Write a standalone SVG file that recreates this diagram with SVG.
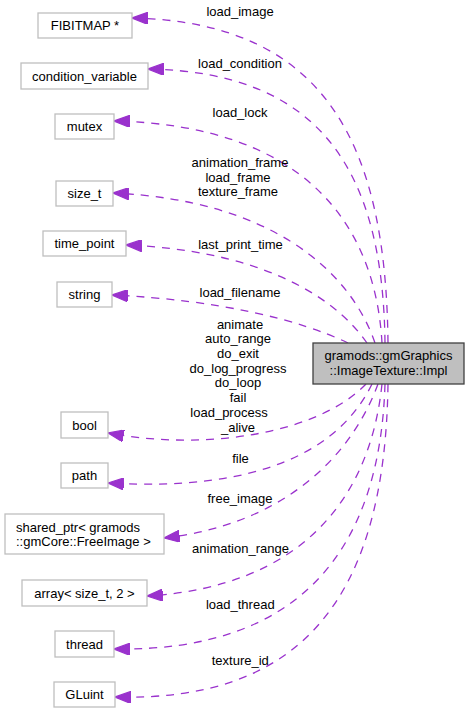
<svg xmlns="http://www.w3.org/2000/svg" width="469" height="713" viewBox="0 0 469 713">
<style>
text{font-family:"Liberation Sans",Arial,sans-serif;font-size:13px;fill:#000}
.n{fill:#fff;stroke:#bfbfbf;stroke-width:1.3}
.m{fill:#bfbfbf;stroke:#404040;stroke-width:1.3}
.e{fill:none;stroke:#9a32cd;stroke-width:1.3;stroke-dasharray:8,7;marker-end:url(#ah)}
.c{text-anchor:middle}
</style>
<defs>
<marker id="ah" markerUnits="userSpaceOnUse" markerWidth="16" markerHeight="12" refX="13" refY="5" orient="auto" viewBox="0 0 13 10">
<path d="M0,0 L13,5 L0,10 z" fill="#9a32cd" stroke="#9a32cd" stroke-width="1"/>
</marker>
</defs>
<g id="connectors">
<path class="e" d="M388,343 C386,150 330,22 132,18"/>
<path class="e" d="M385,343 C383,170 320,72 148,69"/>
<path class="e" d="M382,343 C375,220 300,125 114,121"/>
<path class="e" d="M375,343 C350,270 270,200 113,193"/>
<path class="e" d="M367,343 C330,290 250,250 126,245"/>
<path class="e" d="M348,343 C300,320 220,300 112,295"/>
<path class="e" d="M366,384 C320,432 210,452 108,433"/>
<path class="e" d="M372,384 C340,450 260,492 108,483"/>
<path class="e" d="M378,384 C350,460 280,525 164,538"/>
<path class="e" d="M382,384 C370,500 300,587 147,596"/>
<path class="e" d="M385,384 C380,550 300,652 114,649"/>
<path class="e" d="M388,384 C385,600 300,702 115,697"/>
<text class="c" x="240" y="15.5">load_image</text>
<text class="c" x="240" y="68">load_condition</text>
<text class="c" x="240" y="117">load_lock</text>
<text class="c" x="240" y="167">animation_frame</text>
<text class="c" x="238" y="181.5">load_frame</text>
<text class="c" x="238" y="196">texture_frame</text>
<text class="c" x="240.5" y="248.5">last_print_time</text>
<text class="c" x="240" y="296.5">load_filename</text>
<text class="c" x="240" y="328.6">animate</text>
<text class="c" x="238" y="343.3">auto_range</text>
<text class="c" x="238" y="358">do_exit</text>
<text class="c" x="238" y="372.7">do_log_progress</text>
<text class="c" x="238" y="387.4">do_loop</text>
<text class="c" x="238" y="402.1">fail</text>
<text class="c" x="229" y="416.8">load_process</text>
<text class="c" x="238" y="431.5">_alive</text>
<text class="c" x="240.5" y="463.3">file</text>
<text class="c" x="240" y="502.6">free_image</text>
<text class="c" x="240.5" y="553.3">animation_range</text>
<text class="c" x="240.3" y="608.6">load_thread</text>
<text class="c" x="240.3" y="665">texture_id</text>
</g>
<g id="node_main">
<rect class="m" x="313" y="343" width="151" height="41"/>
<text class="c" x="388.5" y="360">gramods::gmGraphics</text>
<text class="c" x="388.5" y="375">::ImageTexture::Impl</text>
</g>
<g id="node_fibitmap">
<rect class="n" x="38" y="13" width="94" height="25"/>
<text class="c" x="85" y="30">FIBITMAP *</text>
</g>
<g id="node_condition_variable">
<rect class="n" x="21" y="63" width="127" height="26"/>
<text class="c" x="84.5" y="80.5">condition_variable</text>
</g>
<g id="node_mutex">
<rect class="n" x="55" y="114" width="59" height="25"/>
<text class="c" x="84.5" y="131">mutex</text>
</g>
<g id="node_size_t">
<rect class="n" x="56" y="181" width="57" height="25"/>
<text class="c" x="84.5" y="198">size_t</text>
</g>
<g id="node_time_point">
<rect class="n" x="43" y="231" width="83" height="25"/>
<text class="c" x="84.5" y="248">time_point</text>
</g>
<g id="node_string">
<rect class="n" x="57" y="282" width="55" height="25"/>
<text class="c" x="84.5" y="299">string</text>
</g>
<g id="node_bool">
<rect class="n" x="61" y="412" width="47" height="26"/>
<text class="c" x="84.5" y="429.5">bool</text>
</g>
<g id="node_path">
<rect class="n" x="61" y="463" width="47" height="25"/>
<text class="c" x="84.5" y="480">path</text>
</g>
<g id="node_shared_ptr">
<rect class="n" x="5" y="514" width="159" height="40"/>
<text x="16" y="531.5">shared_ptr&lt; gramods</text>
<text x="16" y="545.5">::gmCore::FreeImage &gt;</text>
</g>
<g id="node_array">
<rect class="n" x="22" y="580" width="125" height="26"/>
<text class="c" x="84.5" y="597.5">array&lt; size_t, 2 &gt;</text>
</g>
<g id="node_thread">
<rect class="n" x="55" y="631" width="59" height="26"/>
<text class="c" x="84.5" y="648.5">thread</text>
</g>
<g id="node_gluint">
<rect class="n" x="54" y="682" width="61" height="25"/>
<text class="c" x="84.5" y="699">GLuint</text>
</g>
</svg>
